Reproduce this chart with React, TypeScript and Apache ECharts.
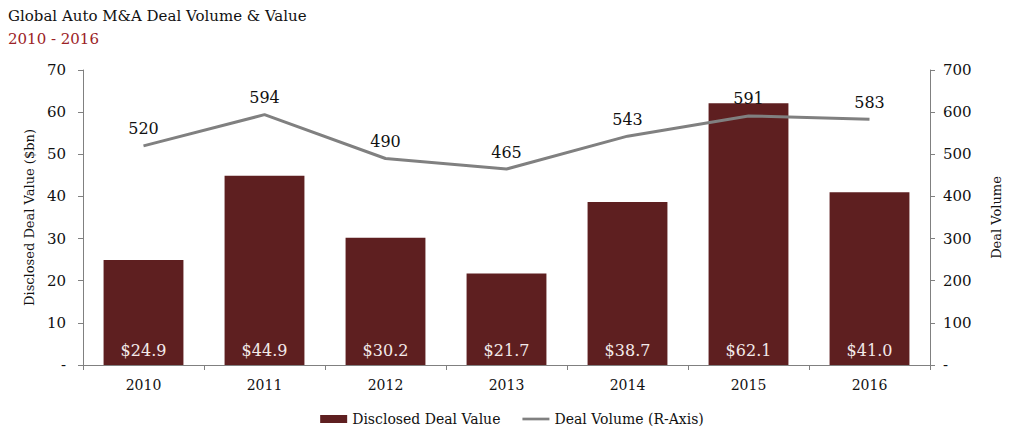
import React, { useEffect, useRef } from "react";
import * as echarts from "echarts";

const years = ["2010", "2011", "2012", "2013", "2014", "2015", "2016"];
const dealValue = [24.9, 44.9, 30.2, 21.7, 38.7, 62.1, 41.0];
const dealVolume = [520, 594, 490, 465, 543, 591, 583];

const FONT = "DejaVu Serif";

export default function App() {
  const ref = useRef<HTMLDivElement>(null);
  useEffect(() => {
    if (!ref.current) return;
    const chart = echarts.init(ref.current, undefined, { renderer: "svg" });
    chart.setOption({
      animation: false,
      textStyle: { fontFamily: FONT, color: "#000" },
      title: {
        text: "Global Auto M&A Deal Volume & Value",
        subtext: "2010 - 2016",
        left: -5,
        top: -5,
        itemGap: 8,
        textStyle: { fontFamily: FONT, fontSize: 15, fontWeight: "normal", color: "#111" },
        subtextStyle: { fontFamily: FONT, fontSize: 15, color: "#9b2226" },
      },
      legend: {
        bottom: 2,
        left: "center",
        itemGap: 22,
        itemWidth: 27,
        itemHeight: 8,
        textStyle: { fontFamily: FONT, fontSize: 14, color: "#111" },
        data: [
          { name: "Disclosed Deal Value", icon: "rect" },
          { name: "Deal Volume (R-Axis)", icon: "path://M0,0h30v3h-30z" },
        ],
      },
      grid: { left: 75, right: 86, top: 62, bottom: 68, containLabel: false },
      xAxis: {
        type: "category",
        data: years,
        axisLine: { lineStyle: { color: "#808080", width: 1 } },
        axisTick: { show: true, length: 5, lineStyle: { color: "#808080" } },
        axisLabel: { fontFamily: FONT, fontSize: 14, color: "#111", margin: 13 },
      },
      yAxis: [
        {
          type: "value",
          min: 0,
          max: 70,
          interval: 10,
          name: "Disclosed Deal Value ($bn)",
          nameLocation: "middle",
          nameGap: 47,
          nameTextStyle: { fontFamily: FONT, fontSize: 13, color: "#111" },
          axisLine: { show: true, lineStyle: { color: "#808080" } },
          axisTick: { show: true, length: 5, lineStyle: { color: "#808080" } },
          splitLine: { show: false },
          axisLabel: {
            fontFamily: FONT,
            fontSize: 15,
            color: "#111",
            margin: 17,
            formatter: (v: number) => (v === 0 ? "-" : String(v)),
          },
        },
        {
          type: "value",
          min: 0,
          max: 700,
          interval: 100,
          name: "Deal Volume",
          nameLocation: "middle",
          nameGap: 60,
          nameTextStyle: { fontFamily: FONT, fontSize: 13, color: "#111" },
          axisLine: { show: true, lineStyle: { color: "#808080" } },
          axisTick: { show: true, length: 5, lineStyle: { color: "#808080" } },
          splitLine: { show: false },
          axisLabel: {
            fontFamily: FONT,
            fontSize: 15,
            color: "#111",
            margin: 13,
            formatter: (v: number) => (v === 0 ? "-" : String(v)),
          },
        },
      ],
      series: [
        {
          name: "Disclosed Deal Value",
          type: "bar",
          data: dealValue,
          barWidth: "66%",
          itemStyle: { color: "#5e1f20" },
          label: {
            show: true,
            position: "insideBottom",
            distance: 7,
            fontFamily: FONT,
            fontSize: 16,
            color: "#f3eaea",
            formatter: (p: any) => "$" + Number(p.value).toFixed(1),
          },
        },
        {
          name: "Deal Volume (R-Axis)",
          type: "line",
          yAxisIndex: 1,
          data: dealVolume,
          symbol: "circle",
          symbolSize: 0,
          showSymbol: true,
          lineStyle: { color: "#808080", width: 3 },
          itemStyle: { color: "#808080" },
          label: {
            show: true,
            position: "top",
            distance: 9,
            fontFamily: FONT,
            fontSize: 16,
            color: "#111",
          },
        },
      ],
    });
    return () => chart.dispose();
  }, []);
  return <div ref={ref} style={{ width: 1008, height: 425 }} />;
}
